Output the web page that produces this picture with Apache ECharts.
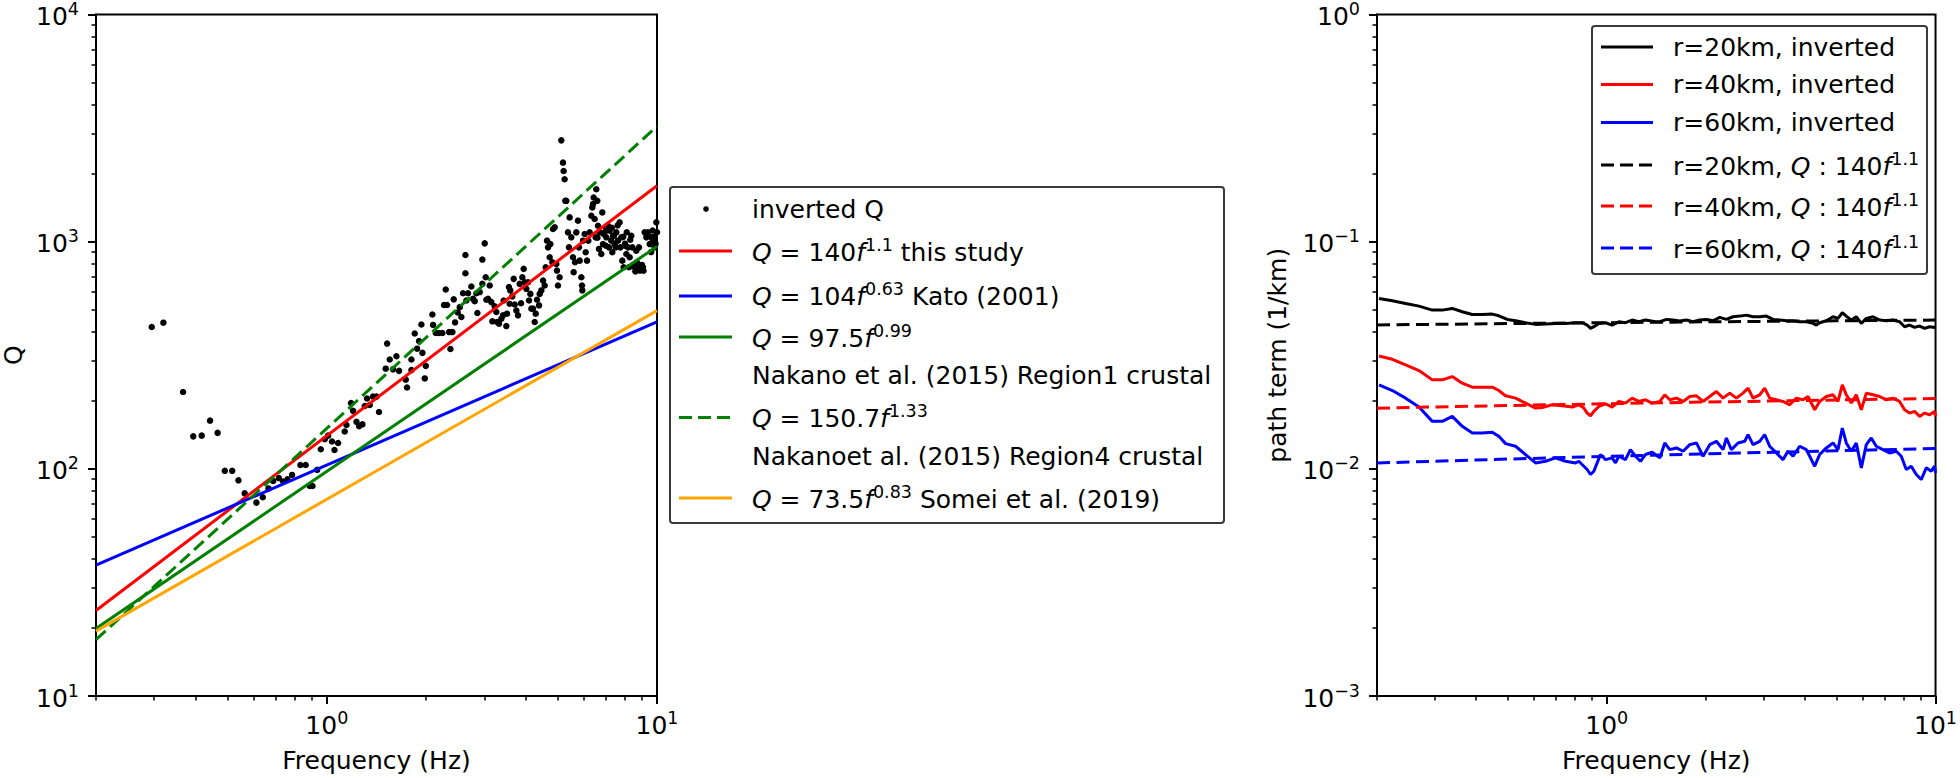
<!DOCTYPE html>
<html><head><meta charset="utf-8">
<script src="https://cdn.jsdelivr.net/npm/echarts@6/dist/echarts.min.js"></script>
<style>html,body{margin:0;padding:0;background:#fff}#c{width:1960px;height:778px}</style>
</head><body><div id="c"></div>
<script>
// ---------- DATA ----------
// inverted Q scatter (frequency Hz, Q)
const invF = [0.295,0.320,0.367,0.394,0.418,0.443,0.467,0.491,0.517,0.540,0.564,0.612,0.640,0.666,0.688,0.716,0.738,0.760,0.785,0.832,0.863,0.888,0.905,0.935,0.959,0.986,1.009,1.037,1.055,1.082,1.133,1.147,1.184,1.201,1.230,1.253,1.282,1.303,1.324,1.349,1.380,1.414,1.439,
1.523,1.551,1.625,1.508,1.587,1.655,1.734,1.750,1.804,1.804,1.846,1.877,1.903,1.934,1.948,1.980,1.994,2.088,2.098,2.138,2.188,2.239,2.292,2.265,2.313,2.346,2.368,2.401,2.423,2.446,2.492,2.527,2.556,2.586,2.629,2.629,2.647,2.677,2.740,2.773,2.805,2.838,2.858,2.905,2.959,2.959,3.008,3.029,3.043,3.078,3.114,3.150,3.172,3.224,3.262,3.277,3.323,3.377,3.417,3.432,3.497,3.513,3.562,3.595,3.579,3.645,3.681,3.707,3.750,3.794,3.838,3.875,3.910,3.947,3.975,4.021,4.069,4.097,4.135,4.165,4.213,4.262,4.292,4.332,4.393,4.413,4.464,4.517,4.569,4.601,4.645,4.677,4.731,4.753,4.819,4.842,4.899,4.955,4.978,5.013,5.071,5.131,5.191,5.215,5.251,5.276,5.313,5.374,5.412,5.438,5.501,5.566,5.592,5.644,5.696,5.764,5.804,5.832,5.900,5.927,5.941,5.970,6.039,6.081,6.138,6.194,6.252,6.325,6.369,6.399,6.428,6.474,6.519,6.549,6.595,6.626,6.672,6.703,6.782,6.829,6.861,6.942,6.990,7.022,7.105,7.154,7.187,7.271,7.322,7.356,7.442,7.494,7.529,7.618,7.706,7.742,7.798,7.852,7.925,7.981,8.074,8.169,8.226,8.264,8.360,8.419,8.458,8.556,8.657,8.697,8.820,8.861,8.964,9.070,9.176,9.284,9.391,9.502,9.612,9.725,9.838,9.954,
6.9,7.3,7.6,7.9,8.1,8.3,8.0,7.4,6.6,7.0,8.6,8.8,9.0,9.1,8.7,9.6,9.8,9.9,10.0,9.7];
const invQ = [421,440,218,139,140,163,144,98,98,89,78,71,75,82,88.5,91,88,90,94,104,104,84,84,99,122,135,140,132,121,130,146,156,195,180,161,154,157,189,204,191,208,208,178,
356,303,313,276,274,270,247,228,303,272,394,338,365,432,324,250,284,478,430,396,396,396,616,526,526,400,337,400,557,441,488,515,466,593,874,726,551,593,635,560,547,593,485,600,834,652,983,697,555,560,641,542,446,519,490,443,435,458,474,551,425,482,631,610,533,574,686,529,498,474,652,536,697,759,663,620,663,551,589,507,507,443,482,555,524,589,610,674,641,772,1010,944,854,976,812,1137,1156,798,746,641,697,2792,2228,2048,1883,1513,1513,1099,944,1279,1045,854,734,812,1099,1237,944,825,697,641,610,1010,1081,898,825,1010,1099,1300,1415,1463,1565,1258,1045,1702,1513,1175,929,1099,883,1345,976,1099,1156,1045,1175,944,1117,1010,898,1062,976,944,1099,1010,1216,944,1045,825,772,960,883,944,772,854,1062,944,785,772,913,798,944,746,759,772,1099,1045,1099,976,1045,1010,944,1216,
1080,1150,1180,1050,1100,1020,980,1060,1040,960,740,760,790,745,810,900,1050,980,1100,1120];

// model Q(f) lines, values read at the two ends of the frequency range
const modelF = [0.2, 10];
const qThisStudy = [23.8, 1763];
const qKato = [37.7, 444];
const qNakano1 = [19.8, 953];
const qNakano4 = [17.7, 3222];
const qSomei = [19.3, 497];

// path term curves (right panel)
const r20F = [0.2028,0.2227,0.2444,0.2684,0.2946,0.3160,0.3388,0.3634,0.3898,0.4180,0.4483,0.4697,0.4980,0.5279,0.5661,0.6071,0.6511,0.6983,0.7489,0.8031,0.8416,0.8716,0.8924,0.9133,0.9458,0.9910,1.038,1.088,1.140,1.194,1.251,1.311,1.406,
1.450,1.519,1.591,1.667,1.747,1.830,1.918,2.009,2.105,2.206,2.311,2.421,2.537,2.658,2.785,2.918,3.058,3.204,3.357,3.517,3.686,3.861,4.046,4.240,4.340,4.442,4.654,4.877,5.050,5.205,5.353,5.544,5.741,5.946,6.158,6.450,6.760,7.082,7.420,7.775,8.051,8.340,8.636,8.945,9.263,9.592,9.933,10];
const r20V = [0.05623,0.05490,0.05344,0.05202,0.04997,0.04997,0.05082,0.04914,0.04783,0.04783,0.04799,0.04719,0.04547,0.04487,0.04397,0.04324,0.04339,0.04368,0.04368,0.04397,0.04397,0.04295,0.04152,0.04223,0.04368,0.04397,0.04295,0.04442,0.04397,0.04517,0.04442,0.04517,0.04442,
0.04442,0.04547,0.04517,0.04472,0.04517,0.04442,0.04517,0.04547,0.04487,0.04640,0.04547,0.04671,0.04702,0.04750,0.04671,0.04671,0.04702,0.04547,0.04517,0.04487,0.04487,0.04442,0.04442,0.04368,0.04295,0.04397,0.04487,0.04671,0.04593,0.04864,0.04702,0.04517,0.04671,0.04368,0.04593,0.04671,0.04517,0.04487,0.04517,0.04442,0.04223,0.04295,0.04194,0.04251,0.04152,0.04223,0.04194,0.0422];

const r40F = [0.2028,0.2227,0.2444,0.2684,0.2946,0.3160,0.3388,0.3634,0.3898,0.4180,0.4483,0.4697,0.4921,0.5279,0.5661,0.6071,0.6362,0.6820,0.7315,0.7847,0.8222,0.8516,0.8716,0.8924,0.9133,0.9458,0.9910,1.038,1.088,1.140,1.194,1.251,1.311,1.374,
1.450,1.501,1.554,1.629,1.707,1.788,1.874,1.963,2.057,2.155,2.258,2.366,2.479,2.597,2.690,2.785,2.918,3.022,3.130,3.280,3.436,3.600,3.773,3.954,4.095,4.290,4.442,4.654,4.877,5.050,5.205,5.353,5.544,5.741,5.946,6.158,6.450,6.760,7.082,7.420,7.775,8.051,8.340,8.636,8.945,9.263,9.592,9.933,10];
const r40V = [0.03140,0.03036,0.02867,0.02707,0.02464,0.02464,0.02548,0.02382,0.02288,0.02288,0.02288,0.02212,0.02096,0.02047,0.01947,0.01851,0.01863,0.01914,0.01895,0.01870,0.01914,0.01851,0.01760,0.01713,0.01790,0.01882,0.01934,0.01870,0.01980,0.01947,0.02047,0.01980,0.02013,0.01947,
0.01980,0.02118,0.02013,0.02047,0.01980,0.02082,0.02096,0.01980,0.02082,0.02190,0.02047,0.02154,0.02047,0.02154,0.02265,0.02047,0.02118,0.02265,0.02047,0.02013,0.01980,0.01914,0.02047,0.02013,0.02082,0.01820,0.01980,0.02082,0.02118,0.01980,0.02343,0.02118,0.01947,0.02118,0.01820,0.02154,0.02118,0.02082,0.02013,0.02047,0.01980,0.01820,0.01760,0.01790,0.01701,0.01760,0.01730,0.01790,0.0170];

const r60F = [0.2028,0.2227,0.2444,0.2684,0.2946,0.3160,0.3388,0.3634,0.3898,0.4180,0.4483,0.4697,0.4921,0.5279,0.5661,0.6071,0.6511,0.6983,0.7489,0.8031,0.8222,0.8516,0.8716,0.8924,0.9133,0.9347,0.9570,0.9910,1.038,1.063,1.088,1.140,1.180,1.222,1.266,1.311,1.374,
1.450,1.501,1.554,1.629,1.707,1.788,1.874,1.963,2.057,2.155,2.258,2.311,2.393,2.508,2.628,2.690,2.785,2.918,3.022,3.130,3.280,3.436,3.559,3.686,3.861,4.046,4.290,4.442,4.654,4.877,5.050,5.205,5.353,5.544,5.741,5.946,6.158,6.375,6.603,6.918,7.250,7.596,7.868,8.147,8.437,8.739,9.048,9.370,9.703,9.933,10];
const r60V = [0.02343,0.02212,0.02047,0.01870,0.01618,0.01618,0.01701,0.01538,0.01438,0.01438,0.01448,0.01390,0.01291,0.01257,0.01156,0.01062,0.01080,0.01117,0.01080,0.01062,0.01080,0.01027,0.00993,0.00944,0.00976,0.01062,0.01156,0.01098,0.01117,0.01062,0.01136,0.01098,0.01215,0.01136,0.01080,0.01156,0.01183,
0.01117,0.01300,0.01215,0.01236,0.01195,0.01278,0.01300,0.01136,0.01278,0.01322,0.01215,0.01367,0.01215,0.01300,0.01322,0.01414,0.01278,0.01322,0.01414,0.01257,0.01175,0.01098,0.01195,0.01136,0.01257,0.01215,0.01027,0.01156,0.01236,0.01300,0.01215,0.01512,0.01300,0.01195,0.01300,0.01010,0.01278,0.01367,0.01257,0.01215,0.01175,0.01195,0.01136,0.00993,0.01027,0.00944,0.00897,0.01010,0.00976,0.01027,0.0096];

// model path terms for Q = 140 f^1.1
const dashF = [0.2, 0.5, 1, 2, 5, 10];
const dash20 = [0.0430, 0.04359, 0.04399, 0.04437, 0.04483, 0.04517];
const dash40 = [0.01850, 0.01899, 0.01934, 0.01968, 0.02010, 0.02039];
const dash60 = [0.01061, 0.01104, 0.01135, 0.01164, 0.01201, 0.01228];

// tick values
const xMajor = [1, 10];
const xMinor = [0.2,0.3,0.4,0.5,0.6,0.7,0.8,0.9,2,3,4,5,6,7,8,9];
const qMajor = [10, 100, 1000, 10000];
const qMinor = [20,30,40,50,60,70,80,90,200,300,400,500,600,700,800,900,2000,3000,4000,5000,6000,7000,8000,9000];
const pMajor = [0.001, 0.01, 0.1, 1];
const pMinor = [0.002,0.003,0.004,0.005,0.006,0.007,0.008,0.009,0.02,0.03,0.04,0.05,0.06,0.07,0.08,0.09,0.2,0.3,0.4,0.5,0.6,0.7,0.8,0.9];

// ---------- CHART ----------
const FF = 'DejaVu Sans';
const RICH = {
  t: {fontSize: 25, fontFamily: FF, color: '#000', verticalAlign: 'bottom'},
  i: {fontSize: 25, fontFamily: FF, fontStyle: 'italic', color: '#000', verticalAlign: 'bottom'},
  s: {fontSize: 17.5, fontFamily: FF, color: '#000', verticalAlign: 'bottom', padding: [0, 0, 11, 0]}
};
function powLabel(v) {
  const e = Math.round(Math.log10(v));
  return '{t|10}{s|' + (e < 0 ? '\u2212' + (-e) : e) + '}';
}
function pairs(xs, ys) { return xs.map((x, i) => [x, ys[i]]); }

function majorAxis(grid, min, max, ticks, pos, name, gap) {
  return {
    type: 'log', logBase: 10, gridIndex: grid, min: min, max: max, position: pos,
    name: name, nameLocation: 'middle', nameGap: gap,
    nameTextStyle: {fontSize: 25, color: '#000', fontFamily: FF},
    axisLine: {show: true, lineStyle: {color: '#000', width: 2}},
    axisTick: {show: true, customValues: ticks, length: 8, lineStyle: {color: '#000', width: 2}},
    axisLabel: {show: true, customValues: ticks, formatter: powLabel, margin: pos === 'bottom' ? 13 : 17, rich: RICH},
    splitLine: {show: false}, minorTick: {show: false}, minorSplitLine: {show: false}
  };
}
function minorAxis(grid, min, max, ticks, pos) {
  return {
    type: 'log', logBase: 10, gridIndex: grid, min: min, max: max, position: pos,
    axisLine: {show: false},
    axisTick: {show: true, customValues: ticks, length: 4.5, lineStyle: {color: '#000', width: 1.5}},
    axisLabel: {show: false},
    splitLine: {show: false}, minorTick: {show: false}
  };
}

function legendText(x, y, txt) {
  return {type: 'text', x: x, y: y, style: {text: txt, rich: RICH, align: 'left', verticalAlign: 'middle', fill: '#000', font: '25px ' + FF}, z: 101};
}
function legendLine(x1, x2, y, color, dash) {
  return {type: 'line', shape: {x1: x1, y1: y, x2: x2, y2: y},
    style: {stroke: color, lineWidth: 3, lineDash: dash ? [13, 6] : null}, z: 101};
}

const chart = echarts.init(document.getElementById('c'), null, {renderer: 'svg', width: 1960, height: 778});

const option = {
  animation: false,
  backgroundColor: '#fff',
  grid: [
    {left: 96, top: 13, width: 561, height: 684, show: true, borderColor: '#000', borderWidth: 2, backgroundColor: 'transparent'},
    {left: 1377, top: 13, width: 560, height: 684, show: true, borderColor: '#000', borderWidth: 2, backgroundColor: 'transparent'}
  ],
  xAxis: [
    majorAxis(0, 0.2, 10, xMajor, 'bottom', 'Frequency (Hz)', 52),
    minorAxis(0, 0.2, 10, xMinor, 'bottom'),
    majorAxis(1, 0.2, 10, xMajor, 'bottom', 'Frequency (Hz)', 52),
    minorAxis(1, 0.2, 10, xMinor, 'bottom')
  ],
  yAxis: [
    majorAxis(0, 10, 10000, qMajor, 'left', 'Q', 70),
    minorAxis(0, 10, 10000, qMinor, 'left'),
    majorAxis(1, 0.001, 1, pMajor, 'left', 'path term (1/km)', 87),
    minorAxis(1, 0.001, 1, pMinor, 'left')
  ],
  series: [
    {name: 'inverted Q', type: 'scatter', xAxisIndex: 0, yAxisIndex: 0, data: pairs(invF, invQ),
      symbolSize: 6.5, itemStyle: {color: '#000', opacity: 1}, z: 2, silent: true},
    {name: 'this study', type: 'line', xAxisIndex: 0, yAxisIndex: 0, data: pairs(modelF, qThisStudy), symbol: 'none',
      lineStyle: {color: '#ff0000', width: 3}, z: 3},
    {name: 'Kato (2001)', type: 'line', xAxisIndex: 0, yAxisIndex: 0, data: pairs(modelF, qKato), symbol: 'none',
      lineStyle: {color: '#0000ff', width: 3}, z: 3},
    {name: 'Nakano Region1', type: 'line', xAxisIndex: 0, yAxisIndex: 0, data: pairs(modelF, qNakano1), symbol: 'none',
      lineStyle: {color: '#008000', width: 3}, z: 3},
    {name: 'Nakano Region4', type: 'line', xAxisIndex: 0, yAxisIndex: 0, data: pairs(modelF, qNakano4), symbol: 'none',
      lineStyle: {color: '#008000', width: 3, type: [13, 6]}, z: 3},
    {name: 'Somei (2019)', type: 'line', xAxisIndex: 0, yAxisIndex: 0, data: pairs(modelF, qSomei), symbol: 'none',
      lineStyle: {color: '#ffa500', width: 3}, z: 3},

    {name: 'r=20km, inverted', type: 'line', xAxisIndex: 2, yAxisIndex: 2, data: pairs(r20F, r20V), symbol: 'none',
      lineStyle: {color: '#000', width: 3}, z: 3},
    {name: 'r=40km, inverted', type: 'line', xAxisIndex: 2, yAxisIndex: 2, data: pairs(r40F, r40V), symbol: 'none',
      lineStyle: {color: '#ff0000', width: 3}, z: 3},
    {name: 'r=60km, inverted', type: 'line', xAxisIndex: 2, yAxisIndex: 2, data: pairs(r60F, r60V), symbol: 'none',
      lineStyle: {color: '#0000ff', width: 3}, z: 3},
    {name: 'r=20km, Q', type: 'line', xAxisIndex: 2, yAxisIndex: 2, data: pairs(dashF, dash20), symbol: 'none',
      lineStyle: {color: '#000', width: 3, type: [13, 6.5]}, z: 4},
    {name: 'r=40km, Q', type: 'line', xAxisIndex: 2, yAxisIndex: 2, data: pairs(dashF, dash40), symbol: 'none',
      lineStyle: {color: '#ff0000', width: 3, type: [13, 6.5]}, z: 4},
    {name: 'r=60km, Q', type: 'line', xAxisIndex: 2, yAxisIndex: 2, data: pairs(dashF, dash60), symbol: 'none',
      lineStyle: {color: '#0000ff', width: 3, type: [13, 6.5]}, z: 4}
  ],
  graphic: [
    // left legend
    {type: 'rect', shape: {x: 670, y: 187, width: 554, height: 336, r: 3}, style: {fill: '#fff', stroke: '#3a3a3a', lineWidth: 2}, z: 100},
    {type: 'circle', shape: {cx: 706, cy: 209, r: 2.8}, style: {fill: '#000'}, z: 101},
    legendLine(679, 732, 251, '#ff0000'),
    legendLine(679, 732, 296, '#0000ff'),
    legendLine(679, 732, 337, '#008000'),
    legendLine(679, 732, 417.5, '#008000', true),
    legendLine(679, 732, 498, '#ffa500'),
    legendText(752, 209, '{t|inverted Q}'),
    legendText(752, 250, '{i|Q}{t| = 140}{i|f}{s|1.1}{t| this study}'),
    legendText(752, 294, '{i|Q}{t| = 104}{i|f}{s|0.63}{t| Kato (2001)}'),
    legendText(752, 336, '{i|Q}{t| = 97.5}{i|f}{s|0.99}'),
    legendText(752, 375, '{t|Nakano et al. (2015) Region1 crustal}'),
    legendText(752, 416, '{i|Q}{t| = 150.7}{i|f}{s|1.33}'),
    legendText(752, 456, '{t|Nakanoet al. (2015) Region4 crustal}'),
    legendText(752, 497, '{i|Q}{t| = 73.5}{i|f}{s|0.83}{t| Somei et al. (2019)}'),
    // right legend
    {type: 'rect', shape: {x: 1592, y: 26, width: 335, height: 248, r: 3}, style: {fill: '#fff', stroke: '#3a3a3a', lineWidth: 2}, z: 100},
    legendLine(1601, 1653, 47, '#000'),
    legendLine(1601, 1653, 84.5, '#ff0000'),
    legendLine(1601, 1653, 122.5, '#0000ff'),
    legendLine(1601, 1653, 165, '#000', true),
    legendLine(1601, 1653, 206, '#ff0000', true),
    legendLine(1601, 1653, 248, '#0000ff', true),
    legendText(1673, 47, '{t|r=20km, inverted}'),
    legendText(1673, 84.5, '{t|r=40km, inverted}'),
    legendText(1673, 122.5, '{t|r=60km, inverted}'),
    legendText(1673, 164, '{t|r=20km, }{i|Q}{t| : 140}{i|f}{s|1.1}'),
    legendText(1673, 205, '{t|r=40km, }{i|Q}{t| : 140}{i|f}{s|1.1}'),
    legendText(1673, 247, '{t|r=60km, }{i|Q}{t| : 140}{i|f}{s|1.1}')
  ]
};
chart.setOption(option);
</script>
</body></html>
